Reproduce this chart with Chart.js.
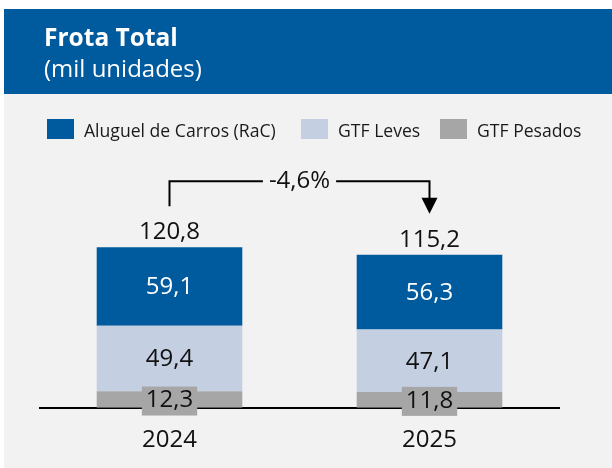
<!DOCTYPE html>
<html>
<head>
<meta charset="utf-8">
<script src="https://cdn.jsdelivr.net/npm/chart.js@4"></script>
<style>
  html, body { margin: 0; padding: 0; background: #fff; }
</style>
</head>
<body>
<canvas id="chart" width="612" height="468"></canvas>
<script>
// Data
const years = ['2024', '2025'];
const seriesNames = ['Aluguel de Carros (RaC)', 'GTF Leves', 'GTF Pesados'];
const rac = [59.1, 56.3];
const gtfLeves = [49.4, 47.1];
const gtfPesados = [12.3, 11.8];
const title = 'Frota Total';
const subtitle = '(mil unidades)';

const seriesColors = ['#005a9e', '#c4cfe2', '#a6a6a6'];
const FONT = '"Open Sans", sans-serif';

const fmt = v => v.toFixed(1).replace('.', ',');
const totals = years.map((_, i) => rac[i] + gtfLeves[i] + gtfPesados[i]);
const change = (totals[1] / totals[0] - 1) * 100;

// --- header, legend, labels and arrow --- //
const decor = {
    id: 'decor',
    beforeDraw(chart) {
        const ctx = chart.ctx;
        ctx.save();
        ctx.fillStyle = '#ffffff';
        ctx.fillRect(0, 0, 612, 468);
        ctx.fillStyle = '#f2f2f2';
        ctx.fillRect(4, 94, 608, 374);
        ctx.fillStyle = seriesColors[0];
        ctx.fillRect(4, 9, 608, 85);

        ctx.fillStyle = '#ffffff';
        ctx.textBaseline = 'alphabetic';
        ctx.font = 'bold 24.5px ' + FONT;
        ctx.fillText(title, 44, 46);
        ctx.font = '24px ' + FONT;
        ctx.fillText(subtitle, 44, 77);

        // legend
        const legendX = [47, 301, 440];
        ctx.font = '17.6px ' + FONT;
        seriesNames.forEach((name, i) => {
            ctx.fillStyle = seriesColors[i];
            ctx.fillRect(legendX[i], 119, 27, 20);
            ctx.fillStyle = '#1a1a1a';
            ctx.fillText(name, legendX[i] + 37, 136.5);
        });
        ctx.restore();
    },
    afterDraw(chart) {
        const ctx = chart.ctx;
        ctx.save();
        ctx.font = '24px ' + FONT;
        ctx.textAlign = 'center';
        ctx.textBaseline = 'middle';

        chart.data.datasets.forEach((ds, di) => {
            const meta = chart.getDatasetMeta(di);
            meta.data.forEach((bar, j) => {
                const y = (bar.y + bar.base) / 2;
                const txt = fmt(ds.data[j]);
                if (ds.boxed) {
                    const w = ctx.measureText(txt).width + 8;
                    ctx.fillStyle = ds.backgroundColor;
                    ctx.fillRect(bar.x - w / 2, y - 13, w, 29);
                }
                ctx.fillStyle = ds.labelColor;
                ctx.fillText(txt, bar.x, y + 1);
            });
        });

        // totals above bars
        const top = chart.getDatasetMeta(chart.data.datasets.length - 1).data;
        ctx.fillStyle = '#111';
        ctx.textBaseline = 'alphabetic';
        top.forEach((bar, j) => {
            ctx.fillText(fmt(totals[j]), bar.x, bar.y - 8);
        });

        // change arrow
        const x0 = top[0].x, x1 = top[1].x;
        const y0 = top[0].y - 41;
        const tipY = top[1].y - 41;
        const hy = Math.min(top[0].y, top[1].y) - 66;
        const label = fmt(change) + '%';
        const lw = ctx.measureText(label).width;
        const mid = (x0 + x1) / 2;

        ctx.strokeStyle = '#000';
        ctx.lineWidth = 2;
        ctx.beginPath();
        ctx.moveTo(x0, y0);
        ctx.lineTo(x0, hy);
        ctx.lineTo(mid - lw / 2 - 6, hy);
        ctx.moveTo(mid + lw / 2 + 6, hy);
        ctx.lineTo(x1, hy);
        ctx.lineTo(x1, tipY - 14);
        ctx.stroke();

        ctx.fillStyle = '#000';
        ctx.beginPath();
        ctx.moveTo(x1 - 8, tipY - 16);
        ctx.lineTo(x1 + 8, tipY - 16);
        ctx.lineTo(x1, tipY);
        ctx.closePath();
        ctx.fill();

        ctx.fillStyle = '#111';
        ctx.textBaseline = 'middle';
        ctx.fillText(label, mid, hy);
        ctx.restore();
    }
};

new Chart(document.getElementById('chart'), {
    type: 'bar',
    data: {
        labels: years,
        datasets: [
            { label: seriesNames[2], data: gtfPesados, backgroundColor: seriesColors[2], labelColor: '#111', boxed: true },
            { label: seriesNames[1], data: gtfLeves, backgroundColor: seriesColors[1], labelColor: '#111' },
            { label: seriesNames[0], data: rac, backgroundColor: seriesColors[0], labelColor: '#ffffff' }
        ]
    },
    options: {
        responsive: false,
        animation: false,
        devicePixelRatio: 1,
        layout: { padding: { left: 39.5, right: 52.5, top: 208.5, bottom: -4.5 } },
        datasets: { bar: { categoryPercentage: 1, barPercentage: 0.56, borderWidth: 0 } },
        plugins: { legend: { display: false }, tooltip: { enabled: false } },
        scales: {
            x: {
                stacked: true,
                z: 1,
                grid: { display: false, drawTicks: false },
                border: { display: true, color: '#000', width: 2 },
                ticks: { color: '#111', padding: 18, font: { family: 'Open Sans', size: 24 } }
            },
            y: { stacked: true, display: false, min: 0, max: 150 }
        }
    },
    plugins: [decor]
});
</script>
</body>
</html>
